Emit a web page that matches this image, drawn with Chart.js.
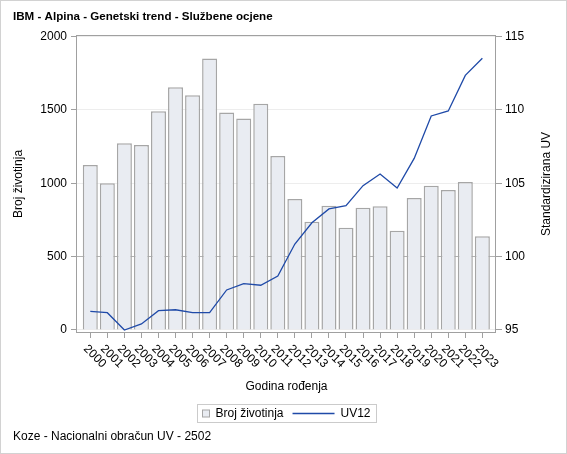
<!DOCTYPE html>
<html>
<head>
<meta charset="utf-8">
<script src="https://cdn.jsdelivr.net/npm/chart.js@4.4.1/dist/chart.umd.min.js"></script>
<style>
  html,body{margin:0;padding:0;background:#fff;}
</style>
</head>
<body>
<canvas id="chart" width="567" height="454"></canvas>
<script>
// DATA
const years = [2000,2001,2002,2003,2004,2005,2006,2007,2008,2009,2010,2011,
               2012,2013,2014,2015,2016,2017,2018,2019,2020,2021,2022,2023];
const brojZivotinja = [1125,1000,1273,1261,1491,1655,1600,1850,1482,1441,1543,1186,
                       893,738,847,697,834,843,677,900,984,955,1009,639];
const uv12 = [96.27,96.18,95.0,95.41,96.32,96.38,96.18,96.18,97.73,98.16,98.05,98.68,
              100.86,102.31,103.25,103.47,104.84,105.63,104.68,106.70,109.59,109.93,112.36,113.52];
const leftTicks = [0,500,1000,1500,2000];
const rightTicks = [95,100,105,110,115];

const FONT = "'Liberation Sans', Arial, sans-serif";
const BAR_FILL = "#e9ecf2";
const BAR_LINE = "#a6a6a6";
const UV_COLOR = "#1f4aa8";
const FRAME = "#a0a0a0";

// OKVIR + POZADINA
const framePlugin = {
  id: "frame",
  beforeDraw(c){
    const ctx = c.ctx;
    ctx.save();
    ctx.fillStyle = "#fff";
    ctx.fillRect(0,0,c.width,c.height);
    ctx.strokeStyle = "#d2d2d2";
    ctx.strokeRect(0.5,0.5,c.width-1,c.height-1);
    ctx.restore();
  },
  beforeDatasetsDraw(c){
    const a = c.chartArea, ctx = c.ctx;
    ctx.save();
    ctx.strokeStyle = FRAME;
    ctx.lineWidth = 1;
    ctx.strokeRect(Math.round(a.left)-0.5, Math.round(a.top)+0.5,
                   Math.round(a.right-a.left), Math.round(a.bottom-a.top)-1);
    ctx.restore();
  }
};

// OZNAKE GODINA (rotirane)
const yearLabels = {
  id: "yearLabels",
  afterDraw(c){
    const s = c.scales.x, ctx = c.ctx;
    ctx.save();
    ctx.font = "12px " + FONT;
    ctx.fillStyle = "#000";
    ctx.textAlign = "left";
    ctx.textBaseline = "middle";
    years.forEach(y=>{
      const x = s.getPixelForValue(y);
      ctx.save();
      ctx.translate(x-5, c.chartArea.bottom+14);
      ctx.rotate(Math.PI/4);
      ctx.fillText(String(y),0,0);
      ctx.restore();
    });
    ctx.restore();
  }
};

// DESNI NASLOV OSI
const rightTitle = {
  id: "rightTitle",
  afterDraw(c){
    const ctx = c.ctx, a = c.chartArea;
    ctx.save();
    ctx.font = "12px " + FONT;
    ctx.fillStyle = "#000";
    ctx.textAlign = "center";
    ctx.textBaseline = "middle";
    ctx.translate(547,(a.top+a.bottom)/2);
    ctx.rotate(-Math.PI/2);
    ctx.fillText("Standardizirana UV",0,0);
    ctx.restore();
  }
};

// LEGENDA
const boxLegend = {
  id: "boxLegend",
  afterDraw(c){
    const ctx = c.ctx, a = c.chartArea;
    const barLabel = c.data.datasets[1].label, lineLabel = c.data.datasets[0].label;
    ctx.save();
    ctx.font = "12px " + FONT;
    const w1 = ctx.measureText(barLabel).width, w2 = ctx.measureText(lineLabel).width;
    const width = Math.round(5+7+6+w1+9+42+6+w2+6);
    const left = Math.round((a.left+a.right)/2 - width/2)+0.5;
    const top = c.scales.x.bottom + 8.5, h = 18, cy = top + h/2;
    ctx.strokeStyle = "#cbcbcb";
    ctx.strokeRect(left, top, width, h);
    let x = left + 5;
    ctx.fillStyle = BAR_FILL;
    ctx.fillRect(x, cy-3.5, 7, 7);
    ctx.strokeStyle = BAR_LINE;
    ctx.strokeRect(x, cy-3.5, 7, 7);
    x += 13;
    ctx.fillStyle = "#000";
    ctx.textBaseline = "middle";
    ctx.fillText(barLabel, x, cy);
    x += w1 + 9;
    ctx.strokeStyle = UV_COLOR;
    ctx.lineWidth = 1.5;
    ctx.beginPath(); ctx.moveTo(x, cy); ctx.lineTo(x+42, cy); ctx.stroke();
    x += 48;
    ctx.fillText(lineLabel, x, cy);
    ctx.restore();
  }
};

const chart = new Chart(document.getElementById("chart"),{
  type: "bar",
  data: {
    datasets: [
      {
        type: "line",
        label: "UV12",
        data: years.map((y,i)=>({x:y, y:uv12[i]})),
        yAxisID: "y1",
        borderColor: UV_COLOR,
        borderWidth: 1.3,
        pointRadius: 0,
        tension: 0,
        order: 0
      },
      {
        type: "bar",
        label: "Broj životinja",
        data: years.map((y,i)=>({x:y, y:brojZivotinja[i]})),
        yAxisID: "y",
        backgroundColor: BAR_FILL,
        borderColor: BAR_LINE,
        borderWidth: 1.5,
        barPercentage: 0.88,
        categoryPercentage: 1,
        order: 1
      }
    ]
  },
  options: {
    responsive: false,
    animation: false,
    layout: {padding: {left: 13, right: 0, top: 0, bottom: 0}},
    plugins: {
      legend: {display: false},
      tooltip: {enabled: false},
      title: {
        display: true,
        text: "IBM - Alpina - Genetski trend - Službene ocjene",
        align: "start",
        color: "#000",
        font: {family: FONT, size: 11.6, weight: "bold"},
        padding: {top: 10.2, bottom: 10.8}
      },
      subtitle: {
        display: true,
        position: "bottom",
        text: "Koze - Nacionalni obračun UV - 2502",
        align: "start",
        color: "#000",
        font: {family: FONT, size: 12},
        padding: {top: 33.8, bottom: 9.8}
      }
    },
    scales: {
      x: {
        type: "linear",
        min: 1999.22,
        max: 2023.8,
        offset: false,
        afterBuildTicks: s=>{ s.ticks = years.map(v=>({value:v})); },
        ticks: {display: false},
        grid: {offset: false, drawOnChartArea: false, drawTicks: true, tickLength: 5, tickColor: FRAME},
        border: {display: false},
        title: {display: true, text: "Godina rođenja", color: "#000",
                font: {family: FONT, size: 12}, padding: {top: 0, bottom: 2}},
        afterFit: s=>{ s.height = 63; }
      },
      y: {
        type: "linear",
        position: "left",
        min: -20.5,
        max: 2011.6,
        z: 1,
        afterBuildTicks: s=>{ s.ticks = leftTicks.map(v=>({value:v})); },
        ticks: {color: "#000", font: {family: FONT, size: 12}, padding: 4, callback: v=>String(v)},
        grid: {
          color: c=> (c.tick && c.tick.value===500) ? "rgba(0,0,0,0.3)" : "rgba(0,0,0,0.07)",
          tickColor: FRAME, tickLength: 6
        },
        border: {display: false},
        title: {display: true, text: "Broj životinja", color: "#000",
                font: {family: FONT, size: 12}, padding: {top: -2, bottom: 0}},
        afterFit: s=>{ s.width = 64; }
      },
      y1: {
        type: "linear",
        position: "right",
        min: 94.795,
        max: 115.116,
        afterBuildTicks: s=>{ s.ticks = rightTicks.map(v=>({value:v})); },
        ticks: {color: "#000", font: {family: FONT, size: 12}, padding: 3, callback: v=>String(v)},
        grid: {drawOnChartArea: false, tickColor: FRAME, tickLength: 6},
        border: {display: false},
        afterFit: s=>{ s.width = 71; }
      }
    }
  },
  plugins: [framePlugin, yearLabels, rightTitle, boxLegend]
});
</script>
</body>
</html>
